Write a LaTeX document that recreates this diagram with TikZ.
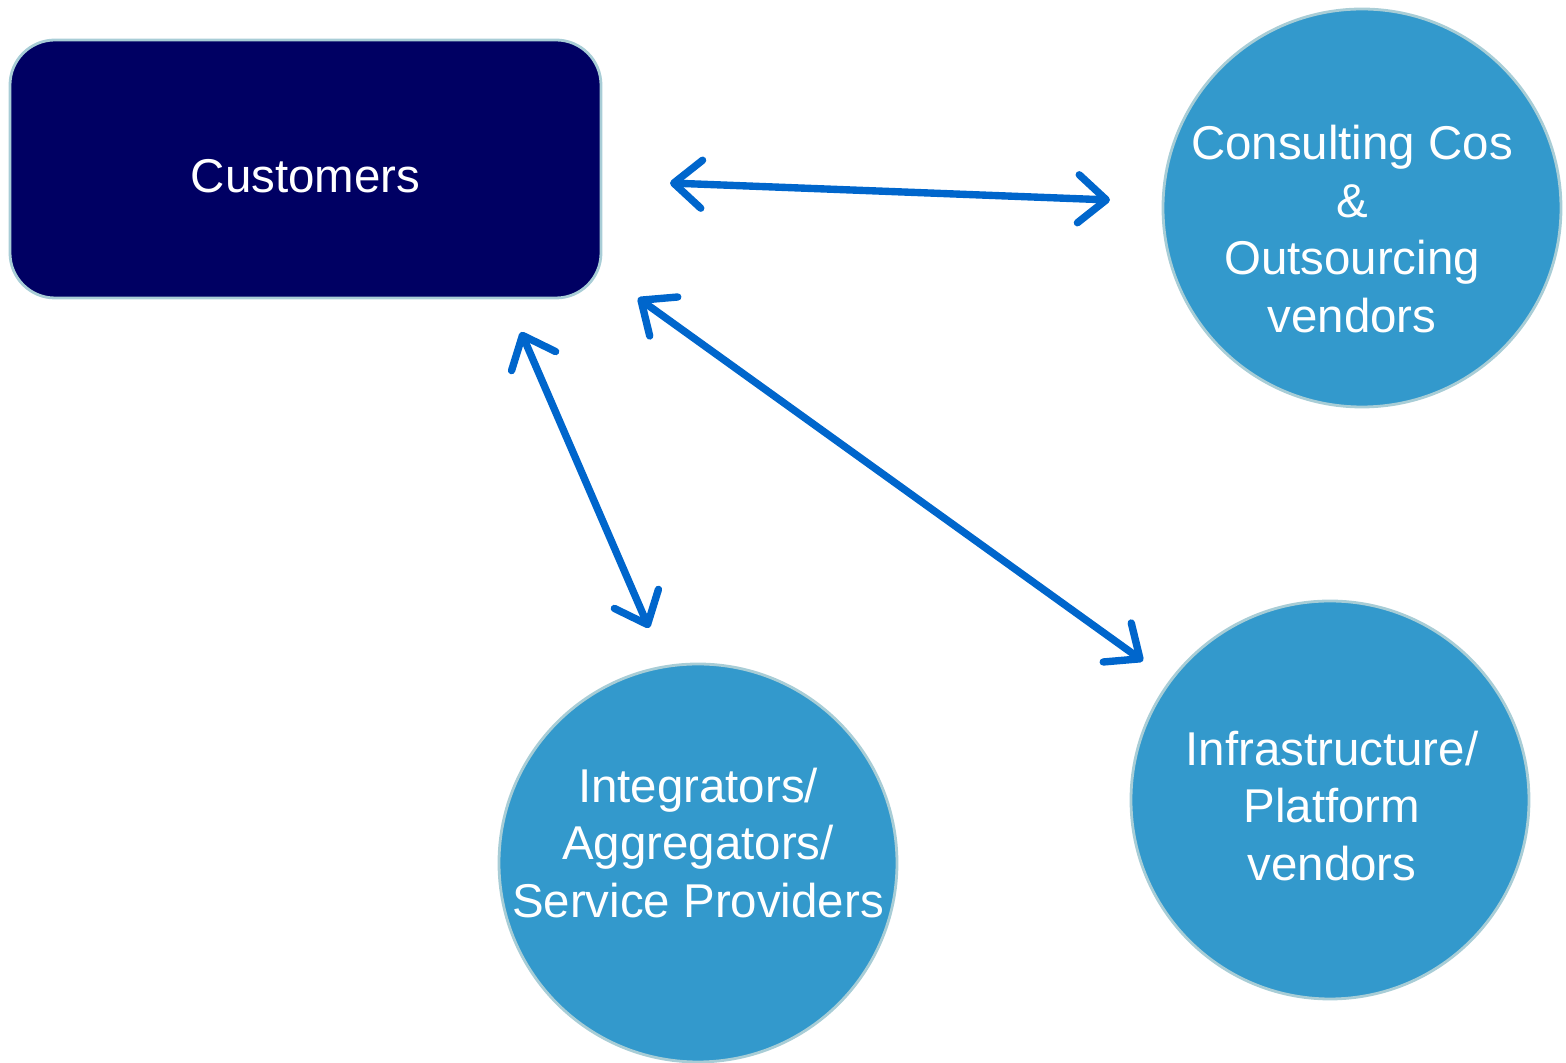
\documentclass[tikz,border=0pt]{standalone}
\usepackage{fontspec}
\setmainfont{Liberation Sans}
\usetikzlibrary{arrows.meta,positioning}

\definecolor{navybox}{HTML}{000063}
\definecolor{vendorfill}{HTML}{3399CC}
\definecolor{rimline}{HTML}{A8CDD6}
\definecolor{linkblue}{HTML}{0066CC}

\begin{document}
\begin{tikzpicture}[
    every node/.style={font=\fontsize{13.5}{16.4}\selectfont, text=white, align=center},
    party/.style={draw=rimline, line width=0.8pt, fill=navybox, rounded corners=0.45cm,
      minimum width=5.91cm, minimum height=2.58cm},
    vendor/.style={circle, draw=rimline, line width=0.8pt, fill=vendorfill, minimum size=3.98cm, inner sep=0pt},
    link/.style={linkblue, line width=2.1pt, line cap=round,
      {Straight Barb[length=0.28cm, width=0.48cm, round]}-{Straight Barb[length=0.28cm, width=0.48cm, round]}}
  ]
  \useasboundingbox (0,0) rectangle (15.66,-10.63);

  \node[party] (cust) at (3.055,-1.69) {};
  \node[vendor] (consult) at (13.62,-2.08) {};
  \node[vendor] (integr) at (6.98,-8.63) {};
  \node[vendor] (infra) at (13.30,-8.00) {};

  \node (cust-txt) at ([yshift=-0.07cm]cust.center) {Customers};
  \node (consult-txt) at ([shift={(-0.1,-0.21)}]consult.center) {Consulting Cos\\\&\\Outsourcing\\vendors};
  \node (integr-txt) at ([yshift=0.2cm]integr.center) {Integrators/\\Aggregators/\\Service Providers};
  \node (infra-txt) at ([shift={(0.02,-0.06)}]infra.center) {Infrastructure/\\Platform\\vendors};

  % free ends of the links
  \coordinate (custE) at (6.70,-1.83);
  \coordinate (consultW) at (11.10,-2.00);
  \coordinate (custS) at (5.21,-3.32);
  \coordinate (integrN) at (6.49,-6.28);
  \coordinate (custSE) at (6.38,-2.98);
  \coordinate (infraNW) at (11.43,-6.61);

  \draw[link] (custE) -- (consultW);
  \draw[link] (custS) -- (integrN);
  \draw[link] (custSE) -- (infraNW);
\end{tikzpicture}
\end{document}
